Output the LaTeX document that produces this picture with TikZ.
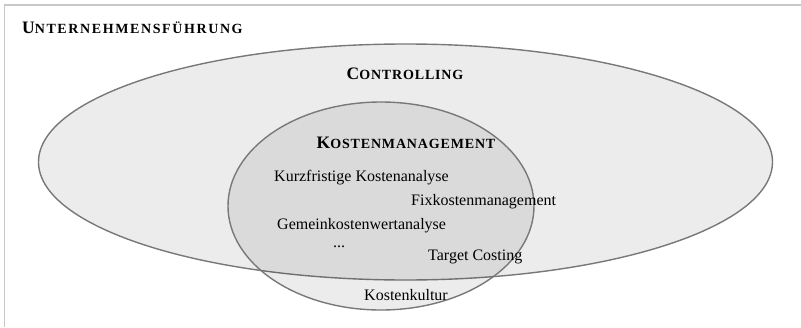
\documentclass[tikz,border=0pt]{standalone}
\usepackage{fontspec}
\setmainfont{Liberation Serif}
\usetikzlibrary{shapes.geometric,shadows}
\definecolor{rim}{HTML}{787878}
\definecolor{framegray}{HTML}{C8C8C8}
\tikzset{field/.style={ellipse, draw=rim, line width=1.4pt, fill=black, fill opacity=0.075, draw opacity=1, inner sep=0pt}}
\tikzset{item/.style={anchor=base west, inner sep=0pt, font=\fontsize{16}{17}\selectfont}}
\tikzset{heading/.style={anchor=base, inner sep=0pt, font=\bfseries}}
\newcommand{\smallcap}[3][6]{{\fontsize{17.5}{18}\selectfont #2}{\fontsize{14}{15}\selectfont\addfontfeatures{LetterSpace=#1}#3}}

\begin{document}
\begin{tikzpicture}[x=1pt, y=-1pt]
      \useasboundingbox (0, 0) rectangle (801, 327);
      \draw[framegray, line width=1.5pt] (4.5, 327) -- (4.5, 5) -- (801, 5);

      \node[field, minimum width=734pt, minimum height=236pt] (controlling) at (405.5, 162) {};
      \node[field, minimum width=306pt, minimum height=208pt] (kostenmgmt) at (381, 206) {};

      \node[heading, anchor=base west] (fuehrung) at (22, 33) {\smallcap[11.5]{U}{NTERNEHMENSFÜHRUNG}};
      \node[heading] (ctrl) at (405, 79) {\smallcap{C}{ONTROLLING}};
      \node[heading] (km) at (406, 148) {\smallcap{K}{OSTENMANAGEMENT}};

      \node[item] (kurz) at (274, 181) {Kurzfristige Kostenanalyse};
      \node[item] (fix) at (411, 205) {Fixkostenmanagement};
      \node[item] (gemein) at (277, 229) {Gemeinkostenwertanalyse};
      \node[item] (dots) at (333, 247) {...};
      \node[item] (target) at (428, 260) {Target Costing};
      \node[item, anchor=base] (kultur) at (406, 300) {Kostenkultur};
    \end{tikzpicture}
\end{document}
